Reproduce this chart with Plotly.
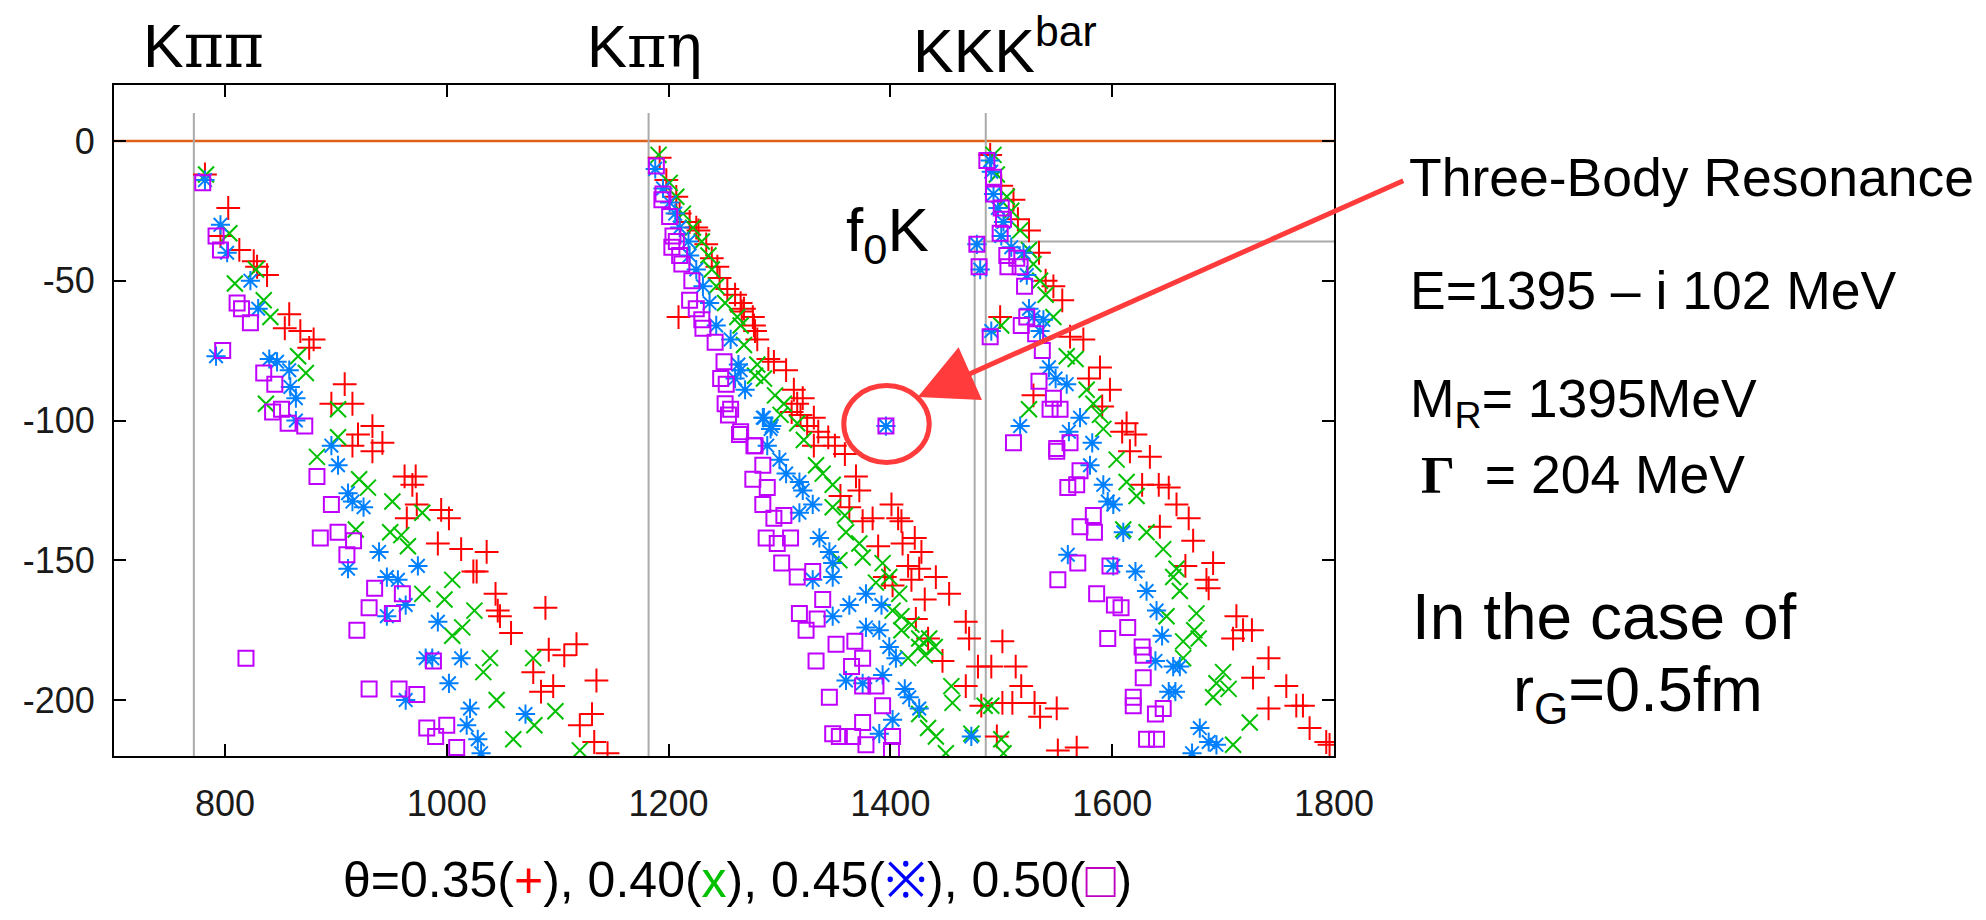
import plotly.graph_objects as go

# ---------------- data (Re E, Im E in MeV) ----------------
# theta = 0.35  (red +)
re_035 = [782, 803, 796, 813, 826, 829, 838, 858, 854, 868, 880, 876, 908, 896, 915, 933, 920, 915, 942, 933,
          962, 972, 969, 973, 964, 995, 1002, 992, 1013, 1036, 1024, 1027, 1044, 1046, 1048, 1089, 1058, 1092,
          1106, 1117, 1078, 1096, 1085, 1135, 1131, 1120, 1133, 1145,
          1192, 1198, 1207, 1210, 1219, 1225, 1227, 1234, 1239, 1244, 1246, 1253, 1260, 1265, 1268, 1266, 1276,
          1277, 1278, 1280, 1209, 1290, 1295, 1306, 1313, 1321, 1316, 1311, 1319, 1331, 1325, 1335, 1344, 1331, 1350,
          1359, 1369, 1372, 1355, 1363, 1375, 1384, 1401, 1407, 1410, 1389, 1411, 1422, 1428, 1416, 1426, 1395,
          1402, 1419, 1441, 1453, 1431, 1423, 1468, 1471, 1501, 1434, 1447, 1479, 1491, 1513, 1518, 1468, 1482,
          1501, 1510, 1530, 1550, 1535, 1496, 1551, 1568,
          1490, 1500, 1511, 1515, 1525, 1534, 1540, 1547, 1555, 1499, 1574, 1562, 1589, 1579, 1598, 1591, 1613,
          1609, 1621, 1529,
          1616, 1634, 1627, 1642, 1651, 1658, 1669, 1673, 1643, 1666, 1691, 1685, 1687, 1712, 1709, 1718, 1726,
          1741, 1727, 1757, 1766, 1772, 1741, 1778, 1793, 1796]
im_035 = [-12, -24, -34, -39, -43, -45, -48, -62, -67, -68, -71, -74, -87, -94, -94, -102, -105, -109, -108, -111,
          -120, -120, -123, -130, -135, -132, -135, -144, -146, -147, -154, -154, -162, -168, -170, -167, -176, -182,
          -184, -180, -190, -195, -197, -193, -205, -209, -215, -219,
          -6, -14, -20, -26, -29, -31, -32, -37, -42, -45, -49, -53, -55, -58, -60, -61, -63,
          -66, -68, -71, -63, -78, -79, -82, -89, -92, -94, -97, -98, -99, -102, -104, -106, -109, -109,
          -112, -120, -125, -127, -131, -136, -135, -130, -135, -136, -145, -144, -142, -147, -152, -153, -156,
          -159, -157, -156, -162, -164, -171, -172, -178, -179, -178, -186, -188, -188, -188, -195, -195, -202,
          -201, -201, -201, -203, -206, -213, -218, -217,
          -5, -16, -21, -28, -32, -40, -50, -52, -57, -63, -71, -70, -81, -85, -89, -95, -101,
          -104, -105, -91,
          -111, -113, -123, -123, -124, -130, -135, -143, -138, -152, -151, -157, -160, -170, -178, -175, -175,
          -185, -192, -195, -202, -202, -203, -210, -215, -216]

# theta = 0.40  (green x)
re_040 = [783, 804, 809, 828, 835, 841, 866, 873, 837, 902, 902, 883, 921, 929, 951, 978, 949, 959, 965, 918,
          978, 998, 1005, 1025, 1014, 1005, 1039, 1033, 1078, 1045, 1060, 1079, 1098, 1120,
          1191, 1201, 1207, 1213, 1222, 1230, 1236, 1239, 1243, 1251, 1262, 1265, 1268, 1280, 1278, 1286, 1296,
          1304, 1301, 1316, 1322, 1333, 1339, 1348, 1348, 1359, 1360, 1372, 1375, 1354, 1393, 1399, 1387, 1408,
          1402, 1410, 1419, 1410, 1426, 1426, 1435, 1431, 1440, 1416, 1426, 1434, 1455, 1456, 1441, 1450, 1473,
          1485, 1491, 1500, 1502,
          1493, 1496, 1505, 1509, 1517, 1525, 1529, 1535, 1540, 1547, 1559, 1567, 1577, 1583, 1589, 1592, 1525,
          1500, 1604, 1613, 1622, 1610, 1631, 1646, 1658, 1655, 1661, 1676, 1674, 1664, 1678, 1649, 1664, 1694,
          1705, 1691, 1724, 1709, 1700]
im_040 = [-12, -33, -51, -46, -57, -63, -77, -83, -94, -96, -106, -113, -121, -124, -129, -133, -140, -141, -145, -139,
          -162, -164, -157, -168, -174, -177, -185, -190, -185, -200, -214, -209, -204, -218,
          -5, -15, -20, -26, -31, -36, -41, -46, -52, -58, -63, -66, -73, -80, -84, -85, -91,
          -94, -98, -101, -107, -116, -119, -123, -131, -134, -140, -144, -149, -150, -151, -156, -158, -162,
          -168, -170, -173, -175, -178, -181, -178, -184, -181, -185, -205, -210, -195, -201, -213, -219, -212,
          -202, -202, -214, -219,
          -5, -12, -20, -25, -32, -39, -44, -50, -55, -63, -77, -78, -89, -94, -98, -103, -96,
          -66, -114, -122, -127, -139, -140, -146, -153, -156, -161, -169, -175, -179, -178, -170, -185, -194,
          -196, -199, -208, -216, -190]

# theta = 0.45  (blue asterisk)
re_045 = [782, 796, 802, 823, 830, 792, 840, 847, 858, 859, 864, 864, 896, 902, 911, 915, 925, 939, 911, 974,
          946, 956, 963, 946, 992, 981, 987, 1013, 1002, 963, 1021, 1018, 1028, 1031, 1071,
          1188, 1195, 1201, 1206, 1210, 1218, 1219, 1225, 1231, 1237, 1243, 1256, 1263, 1265, 1260, 1269, 1286,
          1293, 1289, 1285, 1292, 1300, 1306, 1318, 1321, 1330, 1318, 1336, 1345, 1348, 1348, 1330, 1348, 1363,
          1378, 1392, 1378, 1390, 1399, 1405, 1360, 1375, 1393, 1413, 1417, 1426, 1402, 1390, 1473, 1396,
          1490, 1491, 1493, 1497, 1502, 1500, 1478, 1481, 1509, 1520, 1523, 1525, 1529, 1538, 1535, 1491, 1543,
          1549, 1559, 1517, 1561, 1571, 1582, 1580, 1592, 1596, 1601, 1610, 1560, 1601, 1621, 1631, 1640, 1645,
          1639, 1655, 1661, 1651, 1657, 1679, 1687, 1694, 1672]
im_045 = [-14, -30, -40, -50, -60, -77, -78, -79, -82, -88, -92, -100, -109, -116, -126, -129, -131, -147, -153, -152,
          -156, -157, -166, -170, -172, -185, -185, -185, -194, -200, -203, -209, -214, -219, -205,
          -10, -17, -22, -26, -31, -36, -41, -46, -52, -58, -66, -71, -80, -82, -85, -89, -99,
          -102, -109, -99, -103, -114, -119, -122, -125, -130, -133, -142, -147, -151, -156, -157, -170, -166,
          -162, -166, -174, -175, -181, -185, -193, -194, -191, -196, -199, -203, -207, -212, -213, -102,
          -7, -11, -19, -24, -29, -34, -37, -46, -38, -40, -48, -60, -63, -64, -68, -68, -81,
          -85, -87, -102, -104, -99, -108, -116, -123, -129, -130, -140, -148, -152, -154, -161, -168, -177,
          -186, -188, -188, -197, -197, -210, -215, -216, -219]

# theta = 0.50  (magenta square)
re_050 = [780, 792, 796, 811, 815, 823, 798, 835, 845, 843, 851, 857, 872, 883, 896, 886, 902, 916, 910, 935,
          960, 930, 951, 919, 819, 988, 930, 957, 973, 982, 990, 1000, 1009,
          1189, 1195, 1194, 1201, 1204, 1207, 1203, 1210, 1212, 1221, 1219, 1225, 1230, 1231, 1242, 1250, 1247,
          1252, 1251, 1256, 1254, 1265, 1278, 1264, 1277, 1285, 1276, 1289, 1285, 1295, 1304, 1288, 1298, 1310,
          1302, 1316, 1330, 1339, 1318, 1334, 1324, 1351, 1368, 1375, 1333, 1365, 1375, 1387, 1345, 1393, 1348,
          1354, 1366, 1375, 1378, 1402, 1401, 1396,
          1487, 1493, 1493, 1500, 1502, 1499, 1478, 1480, 1505, 1514, 1506, 1517, 1521, 1523, 1518, 1490, 1531,
          1537, 1534, 1547, 1553, 1511, 1550, 1562, 1544, 1550, 1571, 1560, 1568, 1583, 1571, 1584, 1569, 1598,
          1551, 1586, 1602, 1608, 1614, 1596, 1627, 1628, 1628, 1619, 1619, 1639, 1646, 1631, 1640]
im_050 = [-15, -34, -39, -58, -60, -65, -75, -83, -87, -97, -96, -101, -102, -120, -130, -142, -140, -143, -148, -160,
          -162, -167, -169, -175, -185, -186, -196, -196, -198, -210, -213, -209, -217,
          -9, -19, -21, -27, -34, -36, -38, -41, -44, -50, -57, -60, -64, -67, -72, -79, -85,
          -87, -94, -96, -98, -104, -109, -105, -109, -116, -121, -124, -130, -135, -134, -142, -144, -142,
          -151, -156, -154, -164, -169, -171, -175, -180, -179, -185, -186, -188, -195, -195, -199, -202, -212,
          -213, -213, -208, -216, -213, -218, -102,
          -7, -13, -19, -24, -28, -33, -37, -45, -41, -42, -45, -45, -52, -63, -66, -70, -69,
          -75, -86, -92, -96, -108, -110, -108, -96, -111, -118, -124, -123, -134, -138, -140, -151, -152,
          -157, -162, -166, -167, -174, -178, -181, -184, -192, -199, -202, -205, -203, -214, -214]

# thresholds / reference lines
thresholds = [772, 1182, 1486]          # K pi pi, K pi eta, K K Kbar
f0K_re, f0K_im = 1476, -36               # f0 K threshold
resonance_re, resonance_im = 1396, -101  # three-body resonance

x_ticks = [800, 1000, 1200, 1400, 1600, 1800]
x_ticklabels = ["800", "1000", "1200", "1400", "1600", "1800"]
y_ticks = [0, -50, -100, -150, -200]
y_ticklabels = ["0", "-50", "-100", "-150", "-200"]
x_range = [700, 1800]
y_range = [-220, 20]

# ---------------- figure ----------------
W, H = 1986, 920
L, R, T, B = 114, 1334, 85, 756

def px(xp):
    return (xp - L) / (R - L)

def py(yp):
    return (B - yp) / (B - T)

fig = go.Figure()

series = [
    (re_035, im_035, "cross-thin-open", "#ff0000", 17, "θ=0.35"),
    (re_040, im_040, "x-thin-open", "#00c000", 16, "θ=0.40"),
    (re_045, im_045, "asterisk-open", "#0080ff", 16, "θ=0.45"),
    (re_050, im_050, "square-open", "#c000ff", 15, "θ=0.50"),
]
for xs, ys, sym, col, sz, nm in series:
    fig.add_trace(go.Scatter(
        x=xs, y=ys, mode="markers", name=nm,
        marker=dict(symbol=sym, size=sz, color=col, line=dict(color=col, width=2)),
        showlegend=False, cliponaxis=True))

shapes = []
# zero line
shapes.append(dict(type="line", xref="paper", yref="y", x0=0, x1=1, y0=0, y1=0,
                   line=dict(color="#e0601a", width=2.5), layer="below"))
# threshold lines
for t in thresholds:
    shapes.append(dict(type="line", xref="x", yref="y", x0=t, x1=t, y0=10, y1=y_range[0],
                       line=dict(color="#aaaaaa", width=2), layer="below"))
shapes.append(dict(type="line", xref="x", yref="y", x0=f0K_re, x1=f0K_re, y0=f0K_im, y1=-200,
                   line=dict(color="#aaaaaa", width=2), layer="below"))
shapes.append(dict(type="line", xref="x", yref="y", x0=f0K_re, x1=x_range[1], y0=f0K_im, y1=f0K_im,
                   line=dict(color="#aaaaaa", width=2), layer="below"))
# circle around resonance
shapes.append(dict(type="circle", xref="x", yref="y",
                   x0=resonance_re - 38, x1=resonance_re + 39,
                   y0=resonance_im - 14, y1=resonance_im + 13.5,
                   line=dict(color="#ff3b3b", width=5)))

annotations = []
main_font = "Liberation Sans, Arial, sans-serif"

def txt(text, xp, yp, size, family=main_font):
    annotations.append(dict(text=text, xref="paper", yref="paper", x=px(xp), y=py(yp),
                            xanchor="left", yanchor="middle", align="left", showarrow=False,
                            borderpad=0,
                            font=dict(size=size, color="black", family=family)))

serif = "font-family:DejaVu Serif"
txt(f"K<span style=\"{serif}\">ππ</span>", 142, 46, 61)
txt(f"K<span style=\"{serif}\">πη</span>", 586, 46, 60)
txt("KKK<sup>bar</sup>", 912, 46, 61)
txt("f<sub>0</sub>K", 845, 234, 62)
txt("Three-Body Resonance", 1408, 177, 53.5)
txt("E=1395 – i 102 MeV", 1409, 290, 53.5)
txt("M<sub>R</sub>= 1395MeV", 1409, 402, 53.5)
txt("<span style=\"font-family:Liberation Serif;font-weight:bold\">Γ</span>  = 204 MeV", 1420, 475, 53.5)
txt("In the case of", 1411, 617, 64)
txt("r<sub>G</sub>=0.5fm", 1512, 693, 63)
txt("θ=0.35(<span style='color:#ff0000'>+</span>), 0.40(<span style='color:#00c000'>x</span>), "
    "0.45(<span style='color:#0000ff'>※</span>), 0.50(<span style='color:#c000c0'>□</span>)",
    342, 880, 50)

# arrow from text to circle
annotations.append(dict(x=1424.7, y=-91.6, xref="x", yref="y", text="", showarrow=True,
                        ax=487, ay=-217, axref="pixel", ayref="pixel",
                        arrowhead=2, arrowsize=2.3, arrowwidth=5, arrowcolor="#ff3b3b",
                        standoff=0, startstandoff=0))

axis_common = dict(showline=True, linecolor="black", linewidth=2, mirror="ticks",
                   ticks="inside", ticklen=12, tickwidth=2, tickcolor="black",
                   showgrid=False, zeroline=False, automargin=False,
                   tickfont=dict(size=36, family=main_font, color="#1a1a1a"))

fig.update_layout(
    width=W, height=H,
    margin=dict(l=L, r=W - R, t=T, b=H - B, autoexpand=False),
    paper_bgcolor="white", plot_bgcolor="white",
    xaxis=dict(range=x_range, tickvals=x_ticks, ticktext=x_ticklabels, ticklabelstandoff=15, **axis_common),
    yaxis=dict(range=y_range, tickvals=y_ticks, ticktext=y_ticklabels, ticklabelstandoff=10, **axis_common),
    shapes=shapes, annotations=annotations,
)

fig.write_html("out.html")
